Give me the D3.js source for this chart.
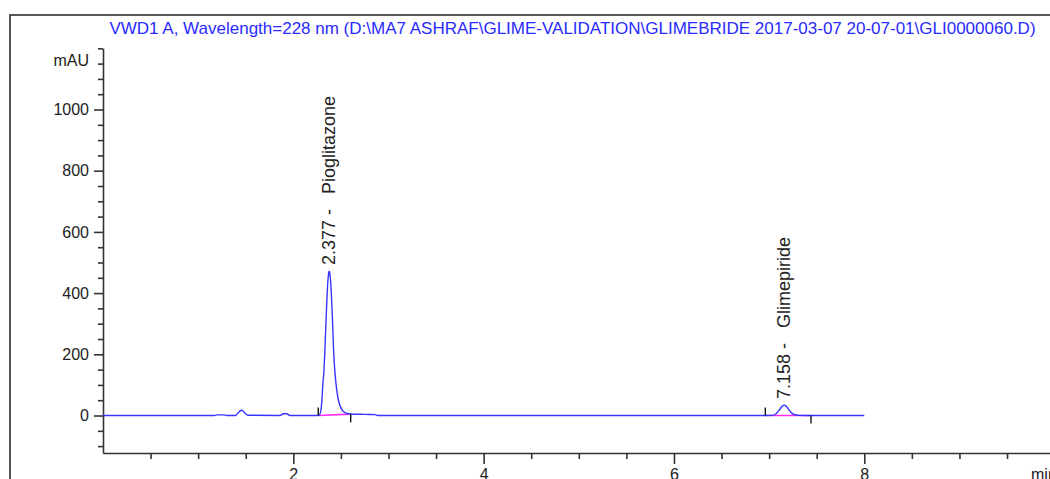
<!DOCTYPE html>
<html>
<head>
<meta charset="utf-8">
<script src="https://cdn.jsdelivr.net/npm/d3@7"></script>
<style>
  html, body { margin: 0; padding: 0; background: #fff; }
  svg { display: block; font-family: "Liberation Sans", Arial, sans-serif; }
</style>
</head>
<body>
<svg id="chart" width="1050" height="479"></svg>
<script>
// Signal description printed above the trace
const titleText = "VWD1 A, Wavelength=228 nm (D:\\MA7 ASHRAF\\GLIME-VALIDATION\\GLIMEBRIDE 2017-03-07 20-07-01\\GLI0000060.D)";
const yUnit = "mAU";
const xUnit = "min";

// Detector trace: retention time (min) and absorbance (mAU)
const traceTime = [
  0.00, 1.17, 1.20, 1.27, 1.30, 1.39, 1.42, 1.44, 1.455, 1.47, 1.49, 1.52,
  1.86, 1.895, 1.93, 1.965,
  2.25, 2.275, 2.29, 2.30, 2.311, 2.322, 2.332, 2.342, 2.352, 2.362, 2.370, 2.377,
  2.384, 2.393, 2.403, 2.413, 2.423, 2.435, 2.448, 2.465, 2.482, 2.50, 2.525, 2.555,
  2.60, 2.70, 2.80, 2.86, 2.89,
  6.96, 7.03, 7.07, 7.10, 7.125, 7.145, 7.158, 7.172, 7.19, 7.215, 7.245, 7.28, 7.32, 7.37,
  8.00
];
const traceMAU = [
  0, 0, 2, 2, 0, 0, 8, 15, 17, 15, 8, 1,
  0, 6, 6, 0,
  0, 2, 18, 48, 105, 147, 214, 295, 372, 434, 463, 472,
  464, 432, 374, 300, 214, 150, 105, 65, 40, 25, 14, 8,
  5, 4, 3.5, 3, 0,
  0, 0.5, 5, 15, 26, 32.6, 34, 32.4, 27, 16, 6, 1.5, 0.3, 0,
  0
];

// Integrated peaks: apex, integration window and drawn baseline ends
const peakNames = ["Pioglitazone", "Glimepiride"];
const peakRT = [2.377, 7.158];
const peakHeight = [472, 34];
const peakStart = [2.262, 6.960];
const peakEnd = [2.603, 7.440];
const baseStartMAU = [0, 0];
const baseEndMAU = [4.5, 0];

// Axis labels
const yLabelTicks = [0, 200, 400, 600, 800, 1000];
const xLabelTicks = [2, 4, 6, 8];

const svg = d3.select("#chart");
const axisColor = "#333";
const traceColor = "#3535ff";

// Outer frame of the plot page
svg.append("rect")
  .attr("x", 10).attr("y", 15)
  .attr("width", 1200).attr("height", 600)
  .attr("fill", "none").attr("stroke", "#3a3a3a").attr("stroke-width", 1.7);

// Title
svg.append("text")
  .attr("x", 572.5).attr("y", 33.5)
  .attr("text-anchor", "middle")
  .attr("font-size", 17)
  .attr("fill", "#2a2aff")
  .text(titleText);

// Scales
const x = d3.scaleLinear().domain([0, 10]).range([103, 1054.6]);
const y = d3.scaleLinear().domain([-122.5, 1200]).range([453, 48.3]);

// Y axis: minor ticks every 50 mAU, labels every 200
const yTicks = d3.range(-100, 1201, 50);
const yAxis = svg.append("g")
  .attr("transform", `translate(${x(0)},0)`)
  .call(d3.axisLeft(y)
    .tickValues(yTicks)
    .tickSizeInner(9)
    .tickSizeOuter(0)
    .tickPadding(5)
    .tickFormat(d => yLabelTicks.includes(d) ? d3.format("d")(d) : ""));
yAxis.selectAll(".tick line")
  .attr("x2", d => yLabelTicks.includes(d) ? -9 : -5);

// X axis: minor ticks every 0.5 min, labels every 2
const xTicks = d3.range(0.5, 10, 0.5);
const xAxis = svg.append("g")
  .attr("transform", `translate(0,${y(-122.5)})`)
  .call(d3.axisBottom(x)
    .tickValues(xTicks)
    .tickSizeInner(11)
    .tickSizeOuter(0)
    .tickPadding(4.5)
    .tickFormat(d => xLabelTicks.includes(d) ? d3.format("d")(d) : ""));
xAxis.selectAll(".tick line")
  .attr("y2", d => xLabelTicks.includes(d) ? 11 : 6);

[yAxis, xAxis].forEach(g => {
  g.select(".domain").attr("stroke", axisColor).attr("stroke-width", 1.6);
  g.selectAll(".tick line").attr("stroke", axisColor).attr("stroke-width", 1.6);
  g.selectAll(".tick text")
    .attr("fill", "#222")
    .attr("font-size", 16)
    .attr("font-family", "\"Liberation Sans\", Arial, sans-serif");
});

// Unit labels
svg.append("text")
  .attr("x", 89).attr("y", y(1160))
  .attr("text-anchor", "end")
  .attr("dominant-baseline", "central")
  .attr("font-size", 16).attr("fill", "#222")
  .text(yUnit);
svg.append("text")
  .attr("x", 1031).attr("y", 480)
  .attr("font-size", 16).attr("fill", "#222")
  .text(xUnit);

// Integration baselines
const peaks = peakNames.map((name, i) => ({
  name, rt: peakRT[i], h: peakHeight[i],
  t0: peakStart[i], t1: peakEnd[i], b0: baseStartMAU[i], b1: baseEndMAU[i]
}));

svg.append("g").selectAll("line")
  .data(peaks).join("line")
  .attr("x1", d => x(d.t0)).attr("y1", d => y(d.b0))
  .attr("x2", d => x(d.t1)).attr("y2", d => y(d.b1))
  .attr("stroke", "#ff2cff").attr("stroke-width", 1.6);

// Trace
const trace = traceTime.map((t, i) => [t, traceMAU[i]]);
svg.append("path")
  .datum(trace)
  .attr("fill", "none")
  .attr("stroke", traceColor)
  .attr("stroke-width", 1.4)
  .attr("d", d3.line()
    .x(d => x(d[0]))
    .y(d => y(d[1]))
    .curve(d3.curveMonotoneX));

// Peak start / end markers
const markers = svg.append("g").attr("stroke", "#111").attr("stroke-width", 1.4);
markers.selectAll(".start")
  .data(peaks).join("line").attr("class", "start")
  .attr("x1", d => x(d.t0)).attr("x2", d => x(d.t0))
  .attr("y1", d => y(d.b0)).attr("y2", d => y(d.b0) - 8);
markers.selectAll(".end")
  .data(peaks).join("line").attr("class", "end")
  .attr("x1", d => x(d.t1)).attr("x2", d => x(d.t1))
  .attr("y1", d => y(d.b1)).attr("y2", d => y(d.b1) + 8);

// Retention time and compound name above each peak
svg.append("g").selectAll("text")
  .data(peaks).join("text")
  .attr("transform", d => `translate(${x(d.rt)},${y(d.h) - 6}) rotate(-90)`)
  .attr("text-anchor", "start")
  .attr("dominant-baseline", "central")
  .attr("font-size", 18)
  .attr("fill", "#222")
  .style("white-space", "pre")
  .text(d => `${d.rt.toFixed(3)} -   ${d.name}`);
</script>
</body>
</html>
